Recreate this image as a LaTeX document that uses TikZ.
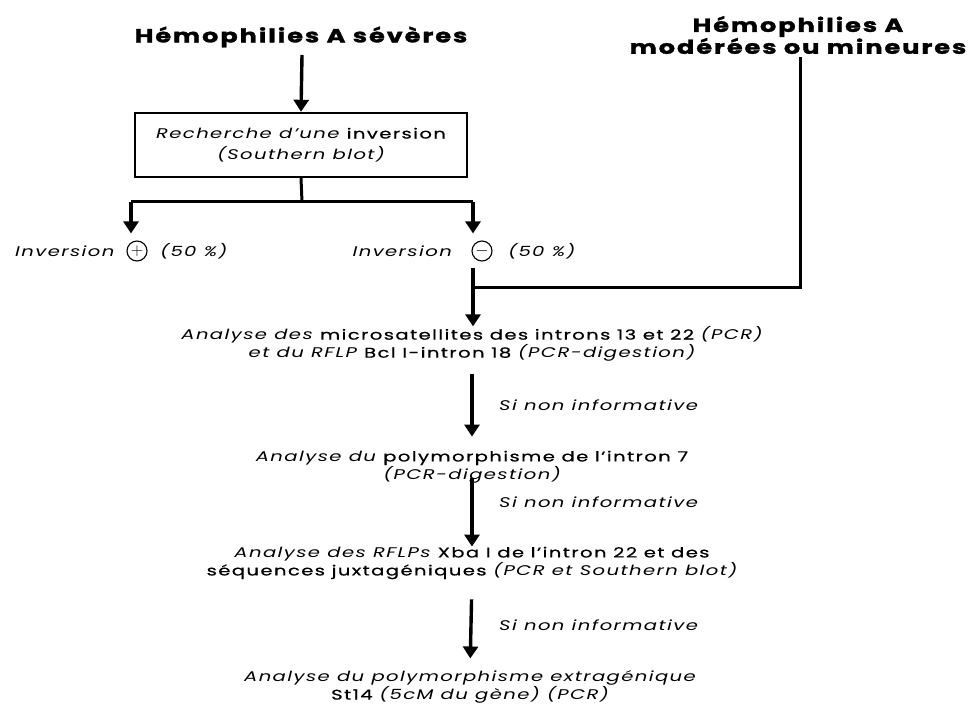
\documentclass[tikz,border=0pt]{standalone}
\usepackage{fontspec}
\setmainfont{Poppins}[FakeStretch=1.4, LetterSpace=10, UprightFeatures={FakeBold=0.6}]
\newfontfamily\headfont{Poppins}[FakeStretch=1.35, LetterSpace=10, BoldFeatures={FakeBold=1.5}]
\usetikzlibrary{arrows.meta,calc}
\tikzset{
  txt/.style={align=center, font=\fontsize{14}{18}\selectfont, inner sep=0pt},
  head/.style={align=center, font=\fontsize{19}{16}\selectfont\headfont\bfseries, inner sep=0pt},
  flow/.style={line width=3.4pt, -{Triangle[length=12pt,width=15pt]}},
  ln/.style={line width=3pt},
  sgn/.style={circle, draw, line width=1.1pt, minimum size=20pt, inner sep=0pt, font=\fontsize{16}{16}\selectfont},
  lab/.style={font=\fontsize{14}{14}\selectfont\itshape, inner sep=0pt},
}
\begin{document}
\begin{tikzpicture}[x=1pt,y=-1pt]
\useasboundingbox (0,0) rectangle (972,711);
\node[head] (t1) at (301,37) {Hémophilies A sévères};
\node[head] (t2) at (798,35) {Hémophilies A\\modérées ou mineures};
\node[txt, draw, line width=2.4pt, minimum width=332pt, minimum height=64pt, font=\fontsize{14}{21}\selectfont] (box) at (301,145)
  {\itshape Recherche d'une \upshape inversion\\\itshape (Southern blot)};
\node[lab, anchor=west] (ip) at (15,251) {Inversion};
\node[sgn] (plus) at (137,251) {$+$};
\node[lab, anchor=west] (pp) at (160,251) {(50 \%)};
\node[lab, anchor=east] (im) at (452,251) {Inversion};
\node[sgn] (minus) at (482,251) {$-$};
\node[lab, anchor=west] (pm) at (508,251) {(50 \%)};
\node[txt] (a1) at (472,344) {\itshape Analyse des \upshape microsatellites des introns 13 et 22 \itshape (PCR)\\\itshape et du RFLP \upshape Bcl I-intron 18 \itshape (PCR-digestion)};
\node[txt] (a2) at (472,467) {\itshape Analyse du \upshape polymorphisme de l'intron 7\\\itshape (PCR-digestion)};
\node[txt] (a3) at (472,563) {\itshape Analyse des RFLPs \upshape Xba I de l'intron 22 et des\\\upshape séquences juxtagéniques \itshape (PCR et Southern blot)};
\node[txt] (a4) at (470,687) {\itshape Analyse du polymorphisme extragénique\\\upshape St14 \itshape (5cM du gène) (PCR)};
\coordinate (jc) at (302,202);
\coordinate (jl) at (131,202);
\coordinate (jr) at (473,202);
\coordinate (ms) at (473,268);
\coordinate (m) at (473,288);
\coordinate (rc) at (800,288);
\coordinate (t1s) at (302,55);
\coordinate (t2s) at (800,57);
\draw[flow] (t1s) -- (box.north);
\draw[ln] (box.south) -- (jc);
\draw[ln] (jl) -- (jr);
\draw[flow, shorten >=7pt] (jl) -- (jl |- plus.north);
\draw[flow, shorten >=7pt] (jr) -- (jr |- minus.north);
\draw[flow] (ms) -- (ms |- a1.north);
\draw[ln] (t2s) -- (rc) -- (m);
\draw[flow, shorten <=12pt, shorten >=14pt] (a1.south) -- (a2.north);
\node[lab, anchor=west] (s1) at (499,405) {Si non informative};
\draw[flow, shorten <=-5pt] (a2.south) -- (a3.north);
\node[lab, anchor=west] (s2) at (499,502) {Si non informative};
\draw[flow, shorten <=20pt, shorten >=12pt] (a3.south) -- (a4.north);
\node[lab, anchor=west] (s3) at (499,625) {Si non informative};
\end{tikzpicture}
\end{document}
